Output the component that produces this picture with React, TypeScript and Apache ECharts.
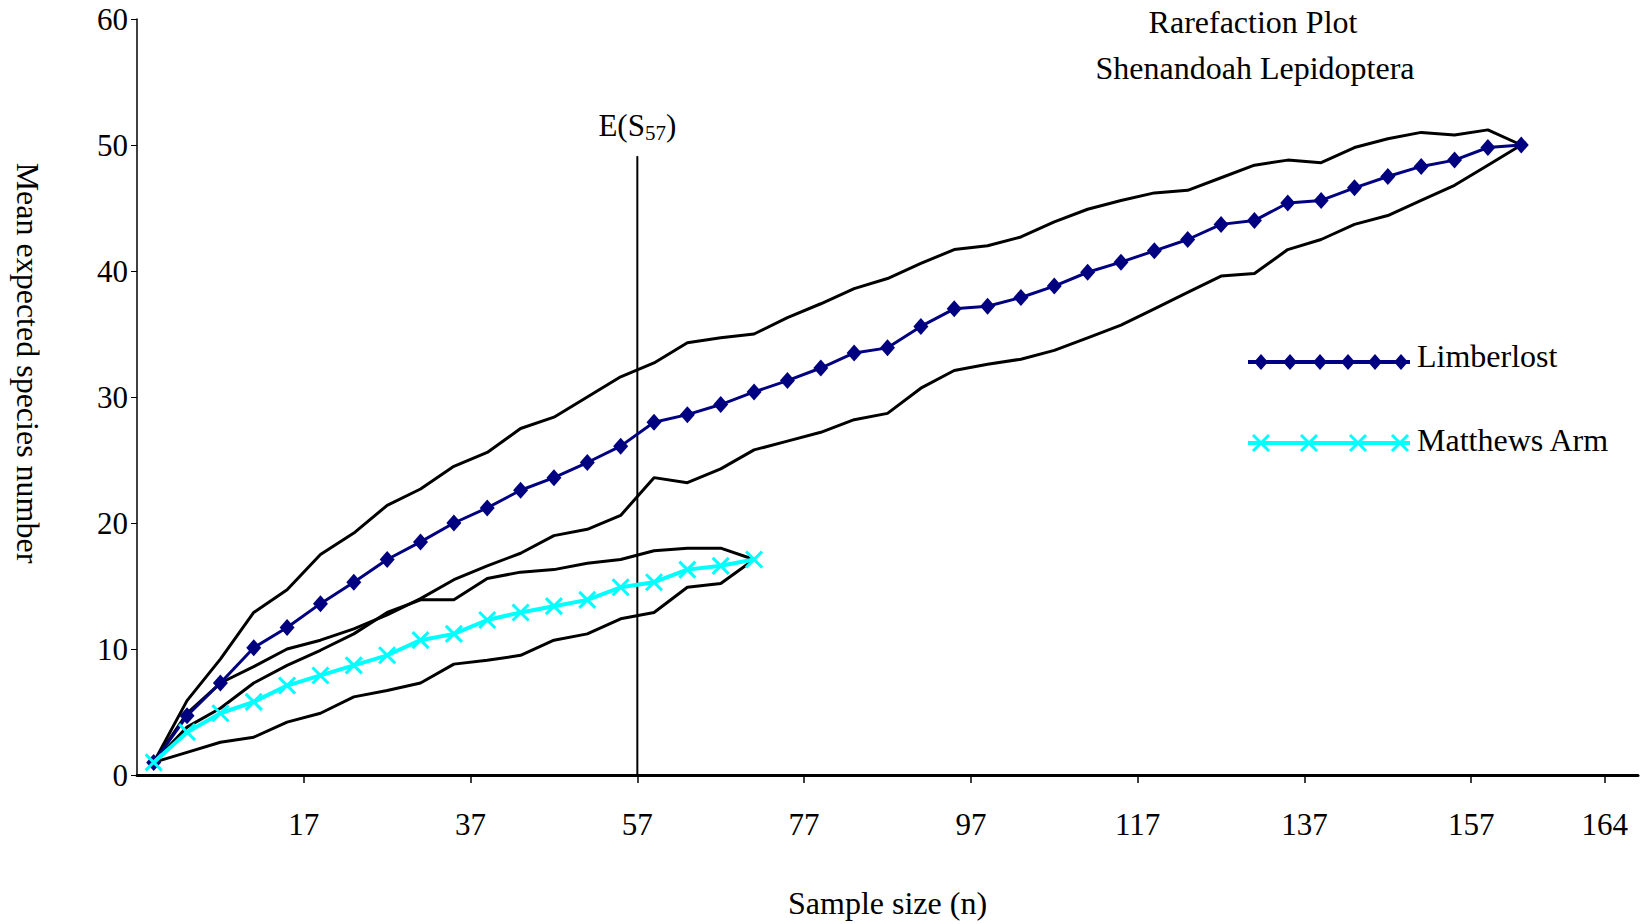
import React, { useEffect, useRef } from 'react';
import * as echarts from 'echarts';

// ---- data ----
const sampleSizes = [
  '1', '5', '9', '13', '17', '21', '25', '29', '33', '37', '41', '45', '49', '53', '57',
  '61', '65', '69', '73', '77', '81', '85', '89', '93', '97', '101', '105', '109', '113', '117',
  '121', '125', '129', '133', '137', '141', '145', '149', '153', '157', '161', '165', '169', '173', '177',
];
// tick marks sit on category boundaries
const xTickBoundaries = [5, 10, 15, 20, 25, 30, 35, 40, 44];
const xTickLabels = ['17', '37', '57', '77', '97', '117', '137', '157', '164'];

const limberlost = [
  1.0, 4.7, 7.3, 10.1, 11.7, 13.6, 15.3, 17.1, 18.5, 20.0, 21.2, 22.6, 23.6, 24.8, 26.1,
  28.0, 28.6, 29.4, 30.4, 31.3, 32.3, 33.5, 33.9, 35.6, 37.0, 37.2, 37.9, 38.8, 39.9, 40.7,
  41.6, 42.5, 43.7, 44.0, 45.4, 45.6, 46.6, 47.5, 48.3, 48.8, 49.8, 50.0,
];
const limberlostUpper = [
  1.0, 5.9, 9.2, 12.9, 14.7, 17.5, 19.2, 21.4, 22.7, 24.5, 25.6, 27.5, 28.4, 30.0, 31.6,
  32.7, 34.3, 34.7, 35.0, 36.3, 37.4, 38.6, 39.4, 40.6, 41.7, 42.0, 42.7, 43.9, 44.9, 45.6,
  46.2, 46.4, 47.4, 48.4, 48.8, 48.6, 49.8, 50.5, 51.0, 50.8, 51.2, 50.0,
];
const limberlostLower = [
  1.0, 4.9, 7.3, 8.6, 10.0, 10.7, 11.6, 12.7, 14.0, 15.5, 16.6, 17.6, 19.0, 19.5, 20.6,
  23.6, 23.2, 24.3, 25.8, 26.5, 27.2, 28.2, 28.7, 30.7, 32.1, 32.6, 33.0, 33.7, 34.7, 35.7,
  37.0, 38.3, 39.6, 39.8, 41.7, 42.5, 43.7, 44.4, 45.6, 46.8, 48.4, 50.0,
];
const matthews = [
  1.0, 3.4, 4.9, 5.8, 7.1, 7.9, 8.7, 9.5, 10.7, 11.2, 12.3, 12.9, 13.4, 13.9, 14.9, 15.3, 16.3, 16.6, 17.1,
];
const matthewsUpper = [
  1.0, 3.8, 5.3, 7.3, 8.7, 9.9, 11.2, 12.9, 13.9, 13.9, 15.6, 16.1, 16.3, 16.8, 17.1, 17.8, 18.0, 18.0, 17.1,
];
const matthewsLower = [
  1.0, 1.8, 2.6, 3.0, 4.2, 4.9, 6.2, 6.7, 7.3, 8.8, 9.1, 9.5, 10.7, 11.2, 12.4, 12.9, 14.9, 15.2, 17.1,
];

const eS57Boundary = 15;
const eS57Top = 49.1;

const yMin = 0;
const yMax = 60;
const yInterval = 10;

const FONT = '"Liberation Serif", "Times New Roman", serif';
const NAVY = '#000080';
const CYAN = '#00FFFF';
const X_PATH = 'path://M0,0L20,20M20,0L0,20';
const TXT = 32;
const TICK = 31;

function legendGraphics() {
  const els: any[] = [];
  const ly1 = 362;
  const ly2 = 443;
  els.push({ type: 'line', shape: { x1: 1248, y1: ly1, x2: 1410, y2: ly1 }, style: { stroke: NAVY, lineWidth: 4 } });
  [1261, 1290, 1320, 1348, 1375, 1401].forEach((cx) => {
    els.push({
      type: 'polygon',
      shape: { points: [[cx, ly1 - 8], [cx + 7, ly1], [cx, ly1 + 8], [cx - 7, ly1]] },
      style: { fill: NAVY },
    });
  });
  els.push({
    type: 'text', x: 1417, y: ly1 - 6,
    style: { text: 'Limberlost', font: `${TXT}px ${FONT}`, fontSize: TXT, fontFamily: FONT, fill: '#000', textAlign: 'left', align: 'left', textVerticalAlign: 'middle', verticalAlign: 'middle' },
  });
  els.push({ type: 'line', shape: { x1: 1248, y1: ly2, x2: 1410, y2: ly2 }, style: { stroke: CYAN, lineWidth: 4 } });
  [1261, 1309, 1358, 1400].forEach((cx) => {
    els.push({ type: 'line', shape: { x1: cx - 8, y1: ly2 - 8, x2: cx + 8, y2: ly2 + 8 }, style: { stroke: CYAN, lineWidth: 3 } });
    els.push({ type: 'line', shape: { x1: cx + 8, y1: ly2 - 8, x2: cx - 8, y2: ly2 + 8 }, style: { stroke: CYAN, lineWidth: 3 } });
  });
  els.push({
    type: 'text', x: 1417, y: ly2 - 3,
    style: { text: 'Matthews Arm', font: `${TXT}px ${FONT}`, fontSize: TXT, fontFamily: FONT, fill: '#000', textAlign: 'left', align: 'left', textVerticalAlign: 'middle', verticalAlign: 'middle' },
  });
  return els;
}

function textEl(text: string, x: number, y: number, rotation = 0) {
  return {
    type: 'text', x, y, rotation,
    style: {
      text, font: `${TXT}px ${FONT}`, fontSize: TXT, fontFamily: FONT, fill: '#000',
      textAlign: 'center', align: 'center', textVerticalAlign: 'middle', verticalAlign: 'middle',
    },
  };
}

export default function App() {
  const ref = useRef<HTMLDivElement>(null);

  useEffect(() => {
    if (!ref.current) return;
    const chart = echarts.init(ref.current, null, { renderer: 'svg' });

    const bound = (name: string, data: number[]) => ({
      name, type: 'line', xAxisIndex: 0, yAxisIndex: 0, data,
      symbol: 'none', lineStyle: { color: '#000', width: 3 }, itemStyle: { color: '#000' },
      z: 2, silent: true,
    });

    const option: any = {
      animation: false,
      backgroundColor: '#fff',
      grid: { left: 137, right: 2, top: 19, bottom: 149, containLabel: false },
      xAxis: [
        {
          type: 'category', data: sampleSizes, boundaryGap: true,
          axisLine: { show: true, lineStyle: { color: '#000', width: 3 } },
          axisTick: { show: false }, axisLabel: { show: false }, splitLine: { show: false },
          name: 'Sample size (n)', nameLocation: 'middle', nameGap: 112,
          nameTextStyle: { fontFamily: FONT, fontSize: TXT, color: '#000' },
        },
        {
          type: 'value', min: 0, max: sampleSizes.length, position: 'bottom',
          axisLine: { show: false }, splitLine: { show: false },
          axisTick: { show: true, customValues: xTickBoundaries, length: 8, lineStyle: { color: '#000', width: 1.5 } },
          axisLabel: {
            show: true, customValues: xTickBoundaries, margin: 34,
            formatter: (v: number) => { const k = xTickBoundaries.indexOf(v); return k >= 0 ? xTickLabels[k] : ''; },
            fontFamily: FONT, fontSize: TICK, color: '#000',
          },
        },
      ],
      yAxis: {
        type: 'value', min: yMin, max: yMax, interval: yInterval,
        axisLine: { show: true, lineStyle: { color: '#000', width: 1.5 } },
        axisTick: { show: true, length: 6, lineStyle: { color: '#000', width: 1 } },
        axisLabel: { margin: 9, fontFamily: FONT, fontSize: TICK, color: '#000' },
        splitLine: { show: false },
      },
      series: [
        bound('Limberlost upper', limberlostUpper),
        bound('Limberlost lower', limberlostLower),
        bound('Matthews Arm upper', matthewsUpper),
        bound('Matthews Arm lower', matthewsLower),
        {
          name: 'E(S57)', type: 'line', xAxisIndex: 1, yAxisIndex: 0,
          data: [
            { value: [eS57Boundary, 0] },
            {
              value: [eS57Boundary, eS57Top],
              label: {
                show: true, position: 'top', distance: 12,
                formatter: '{a|E(S}{s|57}{a|)}',
                rich: {
                  a: { fontFamily: FONT, fontSize: 31, color: '#000', lineHeight: 36 },
                  s: { fontFamily: FONT, fontSize: 21, color: '#000', lineHeight: 20, verticalAlign: 'bottom' },
                },
              },
            },
          ],
          symbol: 'circle', symbolSize: 1,
          lineStyle: { color: '#000', width: 2 }, itemStyle: { color: '#000' },
          z: 3, silent: true,
        },
        {
          name: 'Limberlost', type: 'line', xAxisIndex: 0, yAxisIndex: 0, data: limberlost,
          symbol: 'diamond', symbolSize: [15, 17],
          lineStyle: { color: NAVY, width: 3 }, itemStyle: { color: NAVY },
          z: 5,
        },
        {
          name: 'Matthews Arm', type: 'line', xAxisIndex: 0, yAxisIndex: 0, data: matthews,
          symbol: X_PATH, symbolSize: 16,
          lineStyle: { color: CYAN, width: 4 },
          itemStyle: { color: CYAN, borderColor: CYAN, borderWidth: 3 },
          z: 6,
        },
      ],
      graphic: [
        textEl('Rarefaction Plot', 1253, 22),
        textEl('Shenandoah Lepidoptera', 1255, 68),
        textEl('Mean expected species number', 28, 363, -Math.PI / 2),
        ...legendGraphics(),
      ],
    };

    chart.setOption(option);
    return () => chart.dispose();
  }, []);

  return (
    <div
      ref={ref}
      style={{ position: 'absolute', left: 0, top: 0, width: 1640, height: 924, background: '#fff' }}
    />
  );
}
